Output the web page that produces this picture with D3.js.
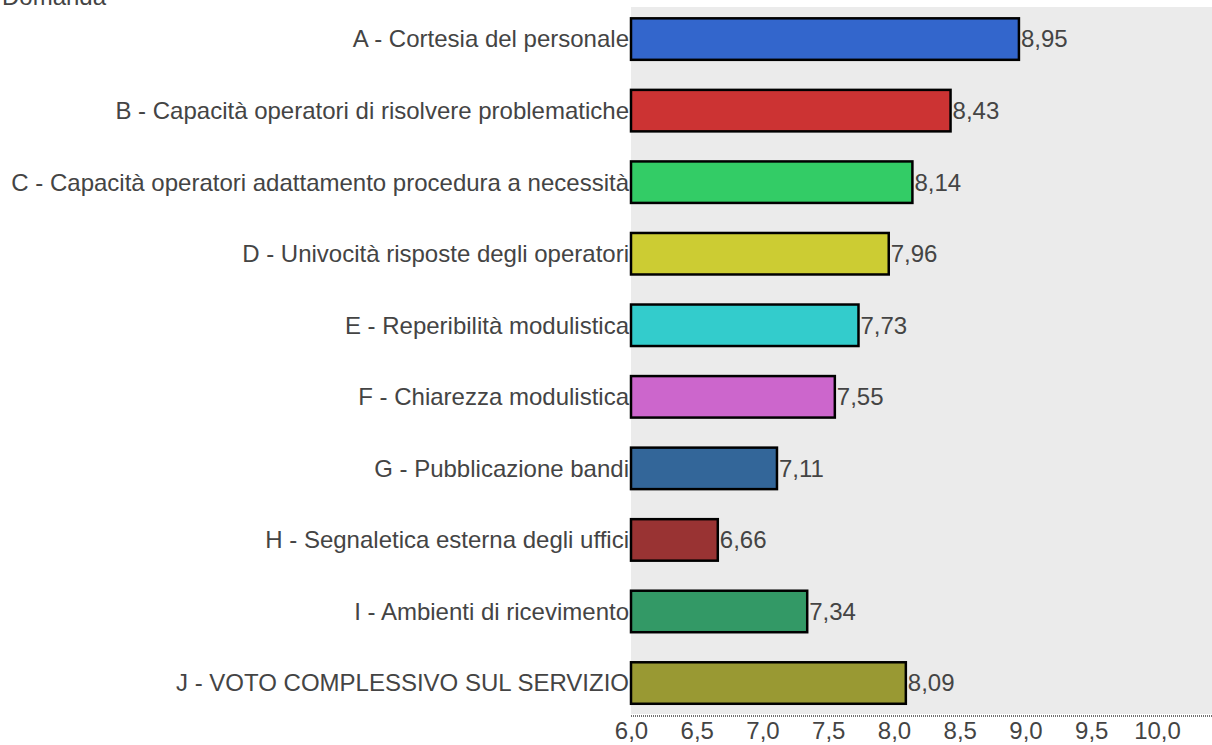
<!DOCTYPE html>
<html><head><meta charset="utf-8">
<script src="https://cdn.jsdelivr.net/npm/d3@7"></script>
<style>body{margin:0;background:#fff}svg{display:block;font-family:"Liberation Sans",Arial,sans-serif}</style>
</head><body>
<svg id="c" width="1212" height="745"></svg>
<script>
const categories = ["A - Cortesia del personale","B - Capacità operatori di risolvere problematiche","C - Capacità operatori adattamento procedura a necessità","D - Univocità risposte degli operatori","E - Reperibilità modulistica","F - Chiarezza modulistica","G - Pubblicazione bandi","H - Segnaletica esterna degli uffici","I - Ambienti di ricevimento","J - VOTO COMPLESSIVO SUL SERVIZIO"];
const values = [8.95,8.43,8.14,7.96,7.73,7.55,7.11,6.66,7.34,8.09];
const colors = ["#3366cc","#cc3333","#33cc66","#cccc33","#33cccc","#cc66cc","#336699","#993333","#339966","#999933"];
const ticks = [6.0,6.5,7.0,7.5,8.0,8.5,9.0,9.5,10.0];
const axisTitle = "Domanda";

(function(){
const svg = d3.select("#c");
const pL = 631, pR = 1212, pT = 7, pB = 714;
const x = d3.scaleLinear().domain([6, 10.42]).range([pL, pL + 4.42*131.5]);
const y = d3.scaleBand().domain(categories).range([3.3, 718.8]).paddingInner(0.42).paddingOuter(0.21);
const fmt = v => d3.format(".1f")(v).replace(".", ",");
const fmt2 = v => d3.format(".2f")(v).replace(".", ",");

svg.append("rect").attr("x", pL).attr("y", pT).attr("width", pR-pL).attr("height", pB-pT).attr("fill", "#ebebeb");

svg.append("text").attr("x", 2).attr("y", 5).attr("font-size", 24).attr("fill", "#444").text(axisTitle);

svg.selectAll("rect.bar").data(values).join("rect").attr("class","bar")
  .attr("x", x(6)).attr("y", (d,i)=>y(categories[i]))
  .attr("width", d=>x(d)-x(6)).attr("height", y.bandwidth())
  .attr("fill", (d,i)=>colors[i]).attr("stroke", "#000").attr("stroke-width", 2.5);

svg.selectAll("text.cat").data(categories).join("text").attr("class","cat")
  .attr("x", pL-2).attr("y", d=>y(d)+y.bandwidth()/2).attr("dy","0.35em")
  .attr("text-anchor","end").attr("font-size",24).attr("fill","#444").text(d=>d);

svg.selectAll("text.val").data(values).join("text").attr("class","val")
  .attr("x", d=>x(d)+2).attr("y", (d,i)=>y(categories[i])+y.bandwidth()/2).attr("dy","0.35em")
  .attr("font-size",24).attr("fill","#444").text(d=>fmt2(d));

const ax = svg.append("g").attr("transform", `translate(0,${pB+2})`)
  .call(d3.axisBottom(x).tickValues(ticks).tickFormat(fmt).tickSize(0).tickPadding(6));
ax.select(".domain").attr("stroke","#444").attr("stroke-width",1.5).attr("stroke-dasharray","1,1").attr("d", `M${pL},0H${pR}`);
ax.selectAll("text").attr("font-size",24).attr("fill","#444").attr("font-family","Liberation Sans, Arial, sans-serif");
})();
</script>
</body></html>
